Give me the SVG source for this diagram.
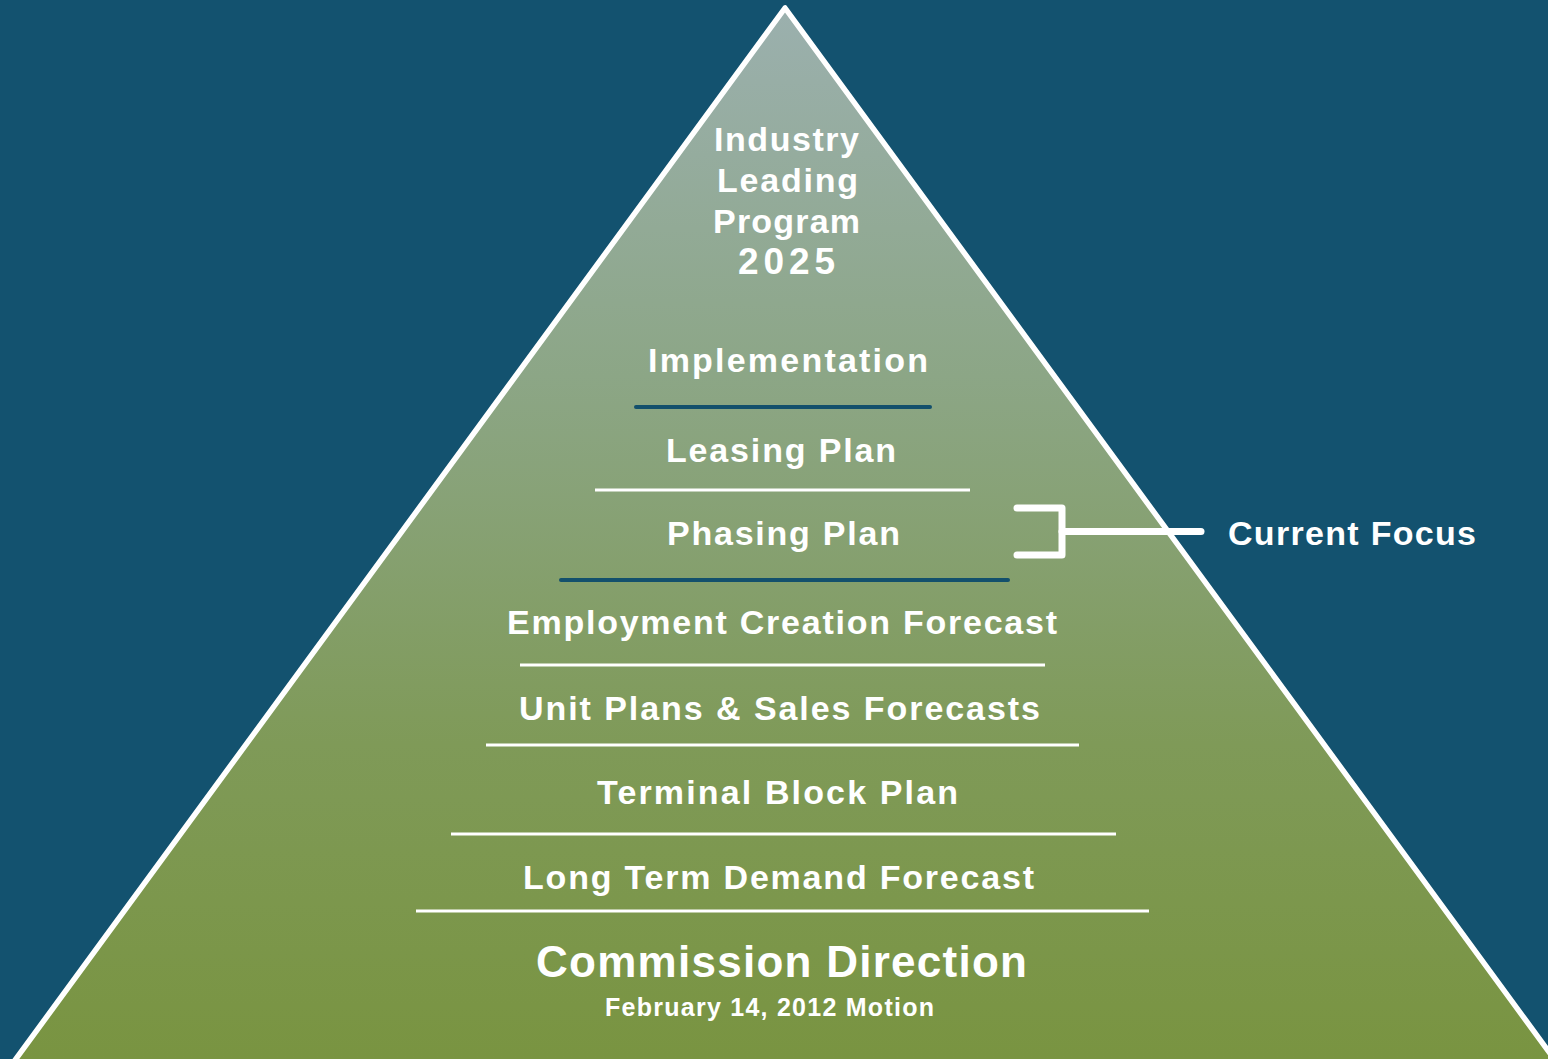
<svg xmlns="http://www.w3.org/2000/svg" width="1548" height="1059" viewBox="0 0 1548 1059">
  <defs>
    <linearGradient id="pyramidFill" x1="0" y1="8" x2="0" y2="1059" gradientUnits="userSpaceOnUse">
      <stop offset="0" stop-color="#9bb0ae"/>
      <stop offset="0.35" stop-color="#8ca686"/>
      <stop offset="0.7" stop-color="#7f9a58"/>
      <stop offset="1" stop-color="#799441"/>
    </linearGradient>
    <style>
      .lbl { font-family: "Liberation Sans", Arial, sans-serif; font-weight: bold; fill: #ffffff; text-anchor: middle; }
      .t34 { font-size: 34px; }
      .rule-w { stroke: #ffffff; stroke-width: 3; fill: none; }
      .rule-b { stroke: #13506c; stroke-width: 4; stroke-linecap: round; fill: none; }
      .bracket { stroke: #ffffff; stroke-width: 7; stroke-linecap: round; stroke-linejoin: round; fill: none; }
    </style>
  </defs>

  <!-- background -->
  <rect x="0" y="0" width="1548" height="1059" fill="#13526f"/>

  <!-- pyramid body -->
  <g id="pyramid">
    <polygon points="785,8 10,1067 1560,1067" fill="url(#pyramidFill)" stroke="#ffffff" stroke-width="5.5" stroke-linejoin="round"/>
  </g>

  <!-- tier dividers -->
  <g id="dividers">
    <line class="rule-b" x1="636" y1="407" x2="930" y2="407"/>
    <line class="rule-w" x1="595" y1="490" x2="970" y2="490"/>
    <line class="rule-b" x1="561" y1="580" x2="1008" y2="580"/>
    <line class="rule-w" x1="520" y1="665" x2="1045" y2="665"/>
    <line class="rule-w" x1="486" y1="745" x2="1079" y2="745"/>
    <line class="rule-w" x1="451" y1="834" x2="1116" y2="834"/>
    <line class="rule-w" x1="416" y1="911" x2="1149" y2="911"/>
  </g>

  <g id="tier-top">
    <text class="lbl t34" x="786.5" y="151" textLength="145">Industry</text>
    <text class="lbl t34" x="787.5" y="192" textLength="141">Leading</text>
    <text class="lbl t34" x="786.5" y="233" textLength="147">Program</text>
    <text class="lbl" x="786.5" y="274" font-size="37" textLength="97">2025</text>
  </g>
  <g id="tier-implementation">
    <text class="lbl t34" x="788" y="372" textLength="280">Implementation</text>
  </g>
  <g id="tier-leasing">
    <text class="lbl t34" x="781" y="462" textLength="230">Leasing Plan</text>
  </g>
  <g id="tier-phasing">
    <text class="lbl t34" x="783.5" y="545" textLength="233">Phasing Plan</text>
  </g>
  <g id="tier-employment">
    <text class="lbl t34" x="782" y="634" textLength="550">Employment Creation Forecast</text>
  </g>
  <g id="tier-unit-plans">
    <text class="lbl t34" x="779.5" y="720" textLength="521">Unit Plans &amp; Sales Forecasts</text>
  </g>
  <g id="tier-terminal">
    <text class="lbl t34" x="777.5" y="804" textLength="361">Terminal Block Plan</text>
  </g>
  <g id="tier-demand">
    <text class="lbl t34" x="778.5" y="889" textLength="511">Long Term Demand Forecast</text>
  </g>
  <g id="tier-commission">
    <text class="lbl" x="781.5" y="977" font-size="44" textLength="491">Commission Direction</text>
    <text class="lbl" x="769.5" y="1016" font-size="25" textLength="329">February 14, 2012 Motion</text>
  </g>

  <!-- focus bracket and callout -->
  <g id="connectors">
    <path class="bracket" d="M1017,508 H1062 V555 H1017"/>
    <line class="bracket" x1="1062" y1="531.5" x2="1201" y2="531.5"/>
  </g>
  <g id="current-focus">
    <text class="lbl t34" x="1228" y="545" textLength="248" style="text-anchor:start">Current Focus</text>
  </g>
</svg>
